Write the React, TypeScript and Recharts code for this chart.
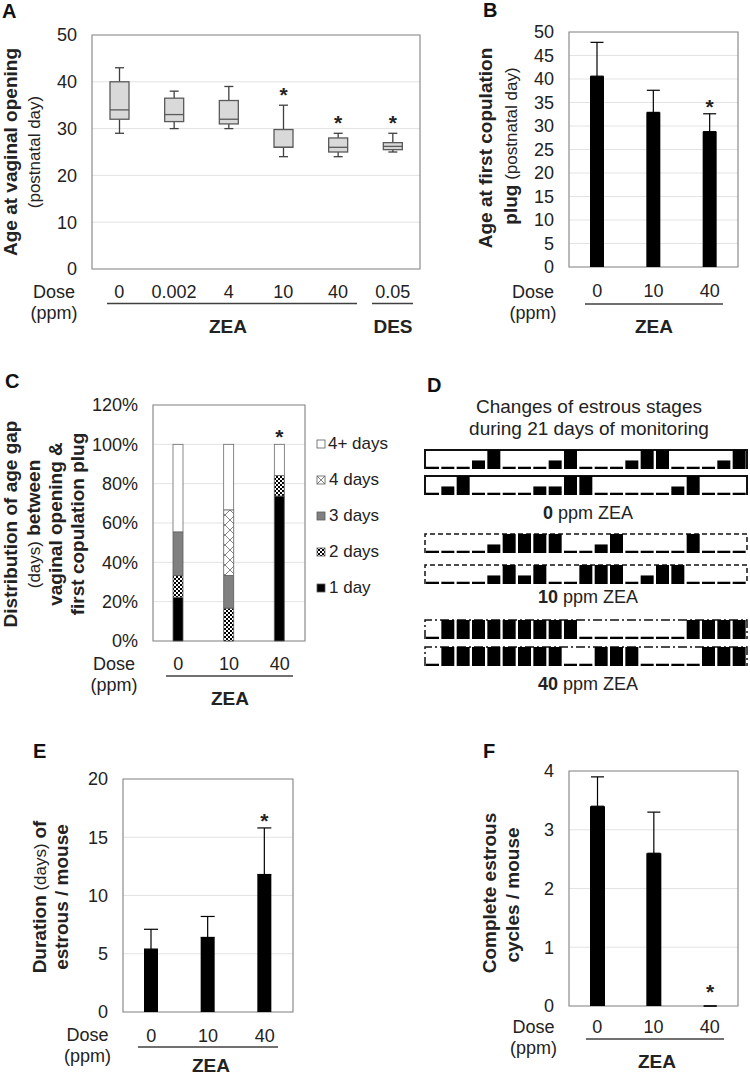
import React from 'react';
import { BarChart, Bar, XAxis, YAxis, CartesianGrid, ErrorBar, ReferenceArea, Legend } from 'recharts';

const FONT = '"Liberation Sans", Arial, Helvetica, sans-serif';
const TXT = '#222222';
const FRAME = '#8c8c8c';
const GRID = '#e3e3e3';
const LINE = '#404040';

// ---------- Panel A (box plot) ----------
const doseA = ['0', '0.002', '4', '10', '40', '0.05'];
const minA = [29, 30, 30, 24, 24, 25];
const q1A = [32, 31.5, 31, 26, 25, 25.5];
const medianA = [34, 33, 32, 26, 26, 26.2];
const q3A = [40, 36.5, 36, 29.8, 28, 27];
const maxA = [43, 38, 39, 35, 29, 29];
const sigA = [false, false, false, true, true, true];
const ticksA = [0, 10, 20, 30, 40, 50];

// ---------- shared ZEA doses ----------
const doseZEA = ['0', '10', '40'];

// ---------- Panel B ----------
const meanB = [40.6, 32.9, 28.8];
const errB = [7.2, 4.7, 3.8];
const sigB = [false, false, true];
const ticksB = [0, 5, 10, 15, 20, 25, 30, 35, 40, 45, 50];

// ---------- Panel C ----------
const oneDayC = [22.2, 0, 73.7];
const twoDaysC = [11.1, 16.7, 10.5];
const threeDaysC = [22.2, 16.6, 0];
const fourDaysC = [0, 33.4, 0];
const fourPlusC = [44.5, 33.3, 15.8];
const sigC = [false, false, true];
const ticksC = [0, 20, 40, 60, 80, 100, 120];
const legendOrderC = ['4+ days', '4 days', '3 days', '2 days', '1 day'];

// ---------- Panel D (estrous stage per day: 0 low, 1 mid, 2 high) ----------
const stageHeight = [0.12, 0.45, 1];
const zea0Mouse1 = [0, 0, 0, 1, 2, 0, 0, 0, 1, 2, 0, 0, 0, 1, 2, 2, 0, 0, 0, 1, 2];
const zea0Mouse2 = [0, 1, 2, 0, 0, 0, 0, 1, 1, 2, 2, 0, 0, 0, 0, 0, 1, 2, 0, 0, 0];
const zea10Mouse1 = [0, 0, 0, 0, 1, 2, 2, 2, 2, 0, 0, 1, 2, 0, 0, 0, 0, 2, 0, 0, 0];
const zea10Mouse2 = [0, 0, 0, 0, 1, 2, 1, 2, 0, 0, 2, 2, 2, 0, 1, 2, 2, 0, 0, 0, 0];
const zea40Mouse1 = [0, 2, 2, 2, 2, 2, 2, 2, 2, 2, 0, 0, 0, 0, 0, 0, 0, 2, 2, 2, 2];
const zea40Mouse2 = [0, 2, 2, 2, 2, 2, 2, 2, 2, 0, 0, 2, 2, 2, 0, 0, 0, 0, 2, 2, 2];

// ---------- Panel E ----------
const meanE = [5.4, 6.4, 11.8];
const errE = [1.7, 1.8, 4.0];
const sigE = [false, false, true];
const ticksE = [0, 5, 10, 15, 20];

// ---------- Panel F ----------
const meanF = [3.4, 2.6, 0];
const errF = [0.5, 0.7, 0];
const sigF = [false, false, true];
const ticksF = [0, 1, 2, 3, 4];

// ---------- tables ----------
const dataA = doseA.map((d, i) => ({
  dose: d, min: minA[i], q1: q1A[i], median: medianA[i], q3: q3A[i], max: maxA[i],
  iqr: q3A[i] - q1A[i], sig: sigA[i],
}));
const meanTable = (m: number[], e: number[], s: boolean[]) =>
  doseZEA.map((d, i) => ({ dose: d, mean: m[i], sd: e[i], err: [0, e[i]], sig: s[i] }));
const dataB = meanTable(meanB, errB, sigB);
const dataE = meanTable(meanE, errE, sigE);
const dataF = meanTable(meanF, errF, sigF);
const dataC = doseZEA.map((d, i) => ({
  dose: d, d1: oneDayC[i], d2: twoDaysC[i], d3: threeDaysC[i], d4: fourDaysC[i], d4p: fourPlusC[i], sig: sigC[i],
}));
const stageTable = (v: number[]) => v.map((s, i) => ({ day: i + 1, h: stageHeight[s] }));

const tickStyle = { fontSize: 18, fill: TXT, fontFamily: FONT };

const Star = ({ x, y }: { x: number; y: number }) => (
  <text x={x} y={y} textAnchor="middle" fontSize={21} fontWeight="bold" fontFamily={FONT} fill={TXT}>*</text>
);

const BoxShape = (p: any) => {
  const { x, y, width, height, payload } = p;
  if (!payload) return null;
  const span = payload.q3 - payload.q1;
  const k = span > 0 ? Math.abs(height) / span : 0;
  const top = Math.min(y, y + height);
  const bot = top + Math.abs(height);
  const cx = x + width / 2;
  const yMax = top - (payload.max - payload.q3) * k;
  const yMin = bot + (payload.q1 - payload.min) * k;
  const yMed = top + (payload.q3 - payload.median) * k;
  const c = 4.5;
  return (
    <g>
      <line x1={cx} y1={yMax} x2={cx} y2={top} stroke={LINE} strokeWidth={1.3} />
      <line x1={cx - c} y1={yMax} x2={cx + c} y2={yMax} stroke={LINE} strokeWidth={1.3} />
      <line x1={cx} y1={bot} x2={cx} y2={yMin} stroke={LINE} strokeWidth={1.3} />
      <line x1={cx - c} y1={yMin} x2={cx + c} y2={yMin} stroke={LINE} strokeWidth={1.3} />
      <rect x={x} y={top} width={width} height={bot - top} fill="#d9d9d9" stroke="#5a5a5a" strokeWidth={1.3} />
      <line x1={x} y1={yMed} x2={x + width} y2={yMed} stroke="#5a5a5a" strokeWidth={1.3} />
      {payload.sig && <Star x={cx} y={yMax - 3.5} />}
    </g>
  );
};

const makeMeanShape = (starOffset: number) => (p: any) => {
  const { x, y, width, height, payload } = p;
  if (!payload) return null;
  const k = payload.mean > 0 ? height / payload.mean : 0;
  const errTop = y - payload.sd * k;
  return (
    <g>
      {height > 0 && <rect x={x} y={y} width={width} height={height} fill="#000" />}
      {payload.sig && <Star x={x + width / 2} y={errTop + starOffset} />}
    </g>
  );
};

const TopSegShape = (p: any) => {
  const { x, y, width, height, payload } = p;
  return (
    <g>
      {height > 0 && <rect x={x} y={y} width={width} height={height} fill="#fff" stroke="#6a6a6a" strokeWidth={0.8} />}
      {payload && payload.sig && <Star x={x + width / 2} y={y - 0.8} />}
    </g>
  );
};

type PanelProps = {
  left: number; top: number; width: number; height: number; yWidth: number;
  margin: any; data: any[]; max: number; ticks: number[]; barSize: number;
  cap: number; starOffset: number; xTickMargin: number;
};

function MeanBarPanel(p: PanelProps) {
  return (
    <div style={{ position: 'absolute', left: p.left, top: p.top }}>
      <BarChart width={p.width} height={p.height} data={p.data} margin={p.margin} barSize={p.barSize}>
        <CartesianGrid vertical={false} stroke={GRID} />
        <XAxis dataKey="dose" height={30} axisLine={false} tickLine={false} tickSize={0} tickMargin={p.xTickMargin} tick={tickStyle} interval={0} />
        <YAxis width={p.yWidth} domain={[0, p.max]} ticks={p.ticks} axisLine={false} tickLine={false} tickSize={0} tickMargin={15} tick={tickStyle} interval={0} />
        <Bar dataKey="mean" fill="#000" isAnimationActive={false} shape={makeMeanShape(p.starOffset)}>
          <ErrorBar dataKey="err" width={p.cap} stroke="#000" strokeWidth={1.2} direction="y" isAnimationActive={false} />
        </Bar>
        <ReferenceArea y1={0} y2={p.max} fill="none" stroke={FRAME} strokeWidth={1.2} ifOverflow="visible" />
      </BarChart>
    </div>
  );
}

function PanelA() {
  return (
    <div style={{ position: 'absolute', left: 0, top: 0 }}>
      <BarChart width={440} height={310} data={dataA} margin={{ top: 35, right: 20, bottom: 11, left: 0 }} barSize={19}>
        <CartesianGrid vertical={false} stroke={GRID} />
        <XAxis dataKey="dose" height={30} axisLine={false} tickLine={false} tickSize={0} tickMargin={16} tick={tickStyle} interval={0} />
        <YAxis width={92} domain={[0, 50]} ticks={ticksA} axisLine={false} tickLine={false} tickSize={0} tickMargin={15} tick={tickStyle} interval={0} />
        <Bar dataKey="q1" stackId="box" fill="none" isAnimationActive={false} />
        <Bar dataKey="iqr" stackId="box" fill="#d9d9d9" isAnimationActive={false} shape={BoxShape} />
        <ReferenceArea y1={0} y2={50} fill="none" stroke={FRAME} strokeWidth={1.2} ifOverflow="visible" />
      </BarChart>
    </div>
  );
}

const renderLegendC = (props: any) => {
  const items = [...(props.payload || [])].sort(
    (a: any, b: any) => legendOrderC.indexOf(a.value) - legendOrderC.indexOf(b.value)
  );
  return (
    <div style={{ fontFamily: FONT, fontSize: 17, color: TXT }}>
      {items.map((it: any, i: number) => (
        <div key={i} style={{ height: 36, display: 'flex', alignItems: 'center', whiteSpace: 'nowrap' }}>
          <svg width={11} height={10} style={{ marginRight: 2 }}>
            <rect x={1} y={1} width={8} height={8} fill={it.color} stroke="#5a5a5a" strokeWidth={0.8} />
          </svg>
          <span>{it.value}</span>
        </div>
      ))}
    </div>
  );
};

function PanelC() {
  const seg = { stackId: 's', stroke: '#5a5a5a', strokeWidth: 0.8, isAnimationActive: false };
  return (
    <div style={{ position: 'absolute', left: 0, top: 380 }}>
      <BarChart width={385} height={300} data={dataC} margin={{ top: 25, right: 80, bottom: 9, left: 0 }} barSize={10}>
        <CartesianGrid vertical={false} stroke={GRID} />
        <XAxis dataKey="dose" height={30} axisLine={false} tickLine={false} tickSize={0} tickMargin={16.6} tick={tickStyle} interval={0} />
        <YAxis width={153} domain={[0, 120]} ticks={ticksC} tickFormatter={(v: number) => `${v}%`} axisLine={false} tickLine={false} tickSize={0} tickMargin={15} tick={tickStyle} interval={0} />
        <Bar dataKey="d1" name="1 day" fill="#000" {...seg} />
        <Bar dataKey="d2" name="2 days" fill="url(#patChecker)" {...seg} />
        <Bar dataKey="d3" name="3 days" fill="#808080" {...seg} />
        <Bar dataKey="d4" name="4 days" fill="url(#patCross)" {...seg} />
        <Bar dataKey="d4p" name="4+ days" fill="#ffffff" {...seg} shape={TopSegShape} />
        <ReferenceArea y1={0} y2={120} fill="none" stroke={FRAME} strokeWidth={1.2} ifOverflow="visible" />
        <Legend layout="vertical" align="center" verticalAlign="middle" wrapperStyle={{ left: 316, top: 46, width: 72, height: 180 }} content={renderLegendC} />
      </BarChart>
    </div>
  );
}

const openFrame = (dash: string | undefined, sw: number) => (p: any) => {
  const { x, y, width, height } = p;
  const b = y + height;
  return (
    <path d={`M${x},${b} L${x},${y} L${x + width},${y} L${x + width},${b}`} fill="none" stroke="#111" strokeWidth={sw} strokeDasharray={dash} />
  );
};

function StageRow({ top, values, dash, sw }: { top: number; values: number[]; dash?: string; sw: number }) {
  return (
    <div style={{ position: 'absolute', left: 424, top }}>
      <BarChart width={324} height={20} data={stageTable(values)} margin={{ top: 1, right: 1, bottom: 0, left: 1 }} barCategoryGap={1}>
        <XAxis dataKey="day" hide />
        <YAxis domain={[0, 1]} hide />
        <Bar dataKey="h" fill="#000" isAnimationActive={false} />
        <ReferenceArea y1={0} y2={1} ifOverflow="visible" shape={openFrame(dash, sw)} />
      </BarChart>
    </div>
  );
}

const VText = ({ x, y, children }: { x: number; y: number; children: React.ReactNode }) => (
  <text transform={`translate(${x},${y}) rotate(-90)`} textAnchor="middle">{children}</text>
);
const B = ({ children, size = 19 }: { children: React.ReactNode; size?: number }) => (
  <tspan fontWeight="bold" fontSize={size}>{children}</tspan>
);
const N = ({ children, size = 17 }: { children: React.ReactNode; size?: number }) => (
  <tspan fontWeight="normal" fontSize={size}>{children}</tspan>
);

function Overlay() {
  const doseLbl = (x: number, y: number) => (
    <g>
      <text x={x} y={y} textAnchor="middle" fontSize={18}>Dose</text>
      <text x={x} y={y + 21} textAnchor="middle" fontSize={18}>(ppm)</text>
    </g>
  );
  const under = (x1: number, x2: number, y: number) => (
    <line x1={x1} x2={x2} y1={y} y2={y} stroke={LINE} strokeWidth={1.5} />
  );
  const zea = (x: number, y: number, t = 'ZEA') => (
    <text x={x} y={y} textAnchor="middle" fontSize={19} fontWeight="bold">{t}</text>
  );
  return (
    <svg width={750} height={1077} style={{ position: 'absolute', left: 0, top: 0, pointerEvents: 'none' }} fontFamily={FONT} fill={TXT}>
      {/* panel letters */}
      <g fontSize={20} fontWeight="bold" fill="#111">
        <text x={2} y={18.3}>A</text>
        <text x={483} y={16.7}>B</text>
        <text x={5} y={388}>C</text>
        <text x={427} y={391.7}>D</text>
        <text x={33} y={758}>E</text>
        <text x={483} y={758}>F</text>
      </g>

      {/* A */}
      <VText x={16.6} y={152}><B>Age at vaginal opening</B></VText>
      <VText x={40.4} y={152}><N>(postnatal day)</N></VText>
      {doseLbl(54, 297.7)}
      {under(107, 357, 303.5)}
      {under(372, 413, 303.5)}
      {zea(228, 333)}
      {zea(393, 333, 'DES')}

      {/* B */}
      <VText x={491.6} y={148}><B>Age at first copulation</B></VText>
      <VText x={517} y={146}><B>plug</B><N> (postnatal day)</N></VText>
      {doseLbl(533, 297.7)}
      {under(585, 723, 304)}
      {zea(654, 333)}

      {/* C */}
      <VText x={17} y={524}><B>Distribution of age gap</B></VText>
      <VText x={40} y={524}><N>(days)</N><B> between</B></VText>
      <VText x={62} y={524}><B>vaginal opening &amp;</B></VText>
      <VText x={84} y={524}><B>first copulation plug</B></VText>
      {doseLbl(114, 670)}
      {under(166, 293, 676)}
      {zea(230, 705)}

      {/* D */}
      <text x={589} y={413} textAnchor="middle" fontSize={19}>Changes of estrous stages</text>
      <text x={589} y={434.5} textAnchor="middle" fontSize={19}>during 21 days of monitoring</text>
      <text x={588} y={518.5} textAnchor="middle" fontSize={18}><tspan fontWeight="bold">0</tspan> ppm ZEA</text>
      <text x={588} y={603} textAnchor="middle" fontSize={18}><tspan fontWeight="bold">10</tspan> ppm ZEA</text>
      <text x={588} y={690} textAnchor="middle" fontSize={18}><tspan fontWeight="bold">40</tspan> ppm ZEA</text>

      {/* E */}
      <VText x={45.6} y={897}><B>Duration</B><N> (days) </N><B>of</B></VText>
      <VText x={68} y={897}><B>estrous / mouse</B></VText>
      {doseLbl(87.5, 1041)}
      {under(138, 278, 1047)}
      {zea(211, 1072)}

      {/* F */}
      <VText x={496} y={893}><B>Complete estrous</B></VText>
      <VText x={519} y={895}><B>cycles / mouse</B></VText>
      {doseLbl(533.5, 1033.3)}
      {under(586, 724, 1039)}
      {zea(657, 1068)}
    </svg>
  );
}

export default function App() {
  return (
    <div style={{ position: 'absolute', left: 0, top: 0, width: 750, height: 1077, background: '#fff', fontFamily: FONT, overflow: 'hidden' }}>
      <svg width={0} height={0} style={{ position: 'absolute' }}>
        <defs>
          <pattern id="patChecker" width="4" height="4" patternUnits="userSpaceOnUse">
            <rect width="4" height="4" fill="#fff" />
            <rect width="2" height="2" fill="#000" />
            <rect x="2" y="2" width="2" height="2" fill="#000" />
          </pattern>
          <pattern id="patCross" width="10" height="10" patternUnits="userSpaceOnUse">
            <rect width="10" height="10" fill="#fff" />
            <path d="M0,0 L10,10 M10,0 L0,10" stroke="#666" strokeWidth="0.8" />
          </pattern>
        </defs>
      </svg>

      <PanelA />
      <MeanBarPanel left={470} top={0} width={280} height={300} yWidth={99}
        margin={{ top: 32, right: 12, bottom: 3, left: 0 }} data={dataB} max={50} ticks={ticksB}
        barSize={14} cap={6.5} starOffset={0.5} xTickMargin={17.6} />
      <PanelC />

      <StageRow top={449} values={zea0Mouse1} sw={2} />
      <StageRow top={475} values={zea0Mouse2} sw={2} />
      <StageRow top={533} values={zea10Mouse1} dash="5 3" sw={1.5} />
      <StageRow top={564} values={zea10Mouse2} dash="5 3" sw={1.5} />
      <StageRow top={619} values={zea40Mouse1} dash="9 3 2 3" sw={1.5} />
      <StageRow top={646} values={zea40Mouse2} dash="9 3 2 3" sw={1.5} />

      <MeanBarPanel left={0} top={740} width={310} height={310} yWidth={123}
        margin={{ top: 39, right: 17, bottom: 8, left: 0 }} data={dataE} max={20} ticks={ticksE}
        barSize={14} cap={7} starOffset={0.5} xTickMargin={17.6} />
      <MeanBarPanel left={470} top={740} width={280} height={300} yWidth={99}
        margin={{ top: 31, right: 12, bottom: 4, left: 0 }} data={dataF} max={4} ticks={ticksF}
        barSize={15} cap={6.5} starOffset={-7.5} xTickMargin={14.3} />

      <Overlay />
    </div>
  );
}
